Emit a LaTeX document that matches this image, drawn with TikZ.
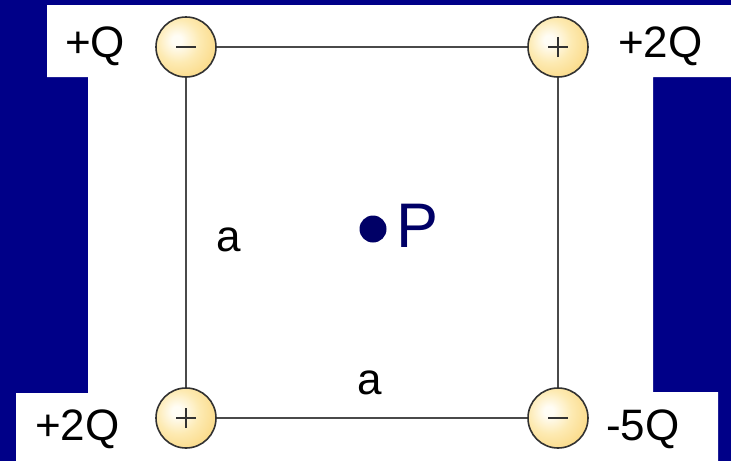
\documentclass[tikz,border=0pt]{standalone}
\usepackage{fontspec}
\setmainfont{Liberation Sans}
\definecolor{bgblue}{RGB}{0,0,136}
\definecolor{navyp}{RGB}{0,0,102}
\definecolor{wire}{RGB}{74,74,74}
\definecolor{rim}{RGB}{50,50,50}
\definecolor{ballA}{RGB}{255,253,245}
\definecolor{ballB}{RGB}{253,234,178}
\definecolor{ballC}{RGB}{250,214,125}
\definecolor{ballD}{RGB}{244,192,72}
\pgfdeclareradialshading{chargeball}{\pgfpoint{-8bp}{6bp}}{%
  color(0bp)=(ballA);
  color(4bp)=(ballA);
  color(18bp)=(ballB);
  color(36bp)=(ballC);
  color(52bp)=(ballD);
  color(100bp)=(ballD)}
\tikzset{
  charge/.style={circle,minimum size=60pt,inner sep=0pt,draw=rim,line width=1.6pt,shading=chargeball},
  wireline/.style={draw=wire,line width=1.6pt},
  signline/.style={draw=rim,line width=2.8pt},
  lbl/.style={inner sep=0pt,anchor=base west,font=\fontsize{44}{50}\selectfont}
}
\begin{document}
\begin{tikzpicture}[x=1pt,y=-1pt]
\useasboundingbox (0,0) rectangle (731,461);
\fill[bgblue] (0,0) rectangle (731,461);
\fill[white] (47,5) -- (731,5) -- (731,77) -- (653,77) -- (653,392) -- (718,392) -- (718,461)
  -- (16,461) -- (16,393) -- (88,393) -- (88,77) -- (47,77) -- cycle;
% charges
\node[charge] (tl) at (186,47) {};
\node[charge] (tr) at (558,47) {};
\node[charge] (bl) at (186,418) {};
\node[charge] (br) at (558,418) {};
% sides
\draw[wireline] (tl) -- (tr);
\draw[wireline] (tl) -- (bl);
\draw[wireline] (bl) -- (br);
\draw[wireline] (tr) -- (br);
% signs
\draw[signline] ([xshift=-10pt]tl.center) -- ([xshift=10pt]tl.center);
\draw[signline] ([xshift=-10pt]br.center) -- ([xshift=10pt]br.center);
\draw[signline] ([xshift=-10pt]tr.center) -- ([xshift=10pt]tr.center);
\draw[signline] ([yshift=-10pt]tr.center) -- ([yshift=10pt]tr.center);
\draw[signline] ([xshift=-10pt]bl.center) -- ([xshift=10pt]bl.center);
\draw[signline] ([yshift=-10pt]bl.center) -- ([yshift=10pt]bl.center);
% labels
\node[lbl] (qtl) at (65,57) {+Q};
\node[lbl] (qtr) at (618,57) {+2Q};
\node[lbl] (qbl) at (35,440) {+2Q};
\node[lbl] (qbr) at (606,440) {-5Q};
\node[lbl] (aleft) at (216,251) {a};
\node[lbl] (abottom) at (357,394) {a};
% point P
\fill[navyp] (373,229) circle (13.5);
\node[inner sep=0pt,anchor=base west,text=navyp,font=\fontsize{63}{70}\selectfont] (P) at (396,247) {P};
\end{tikzpicture}
\end{document}
